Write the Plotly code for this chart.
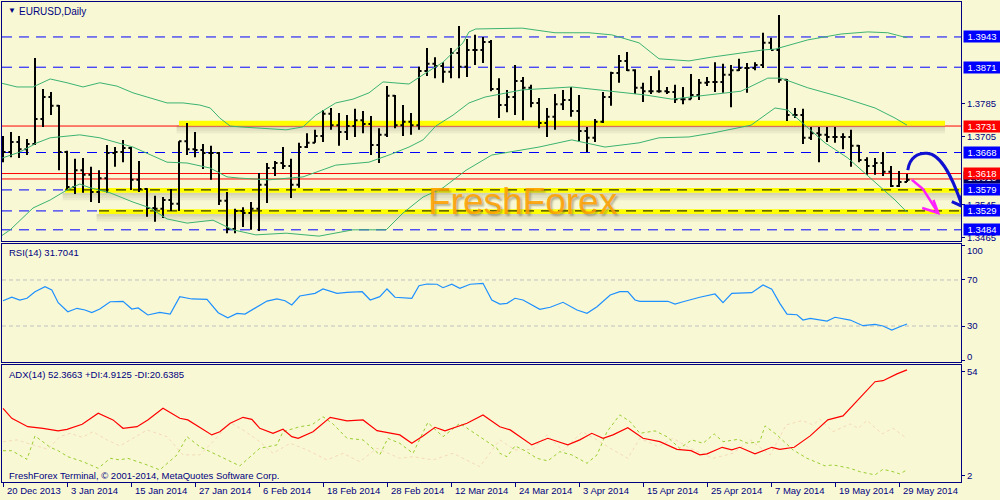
import plotly.graph_objects as go

# ---------------- data ----------------
bar_idx = list(range(114))
date_tick_idx = [0, 8, 16, 24, 32, 40, 48, 56, 64, 72, 80, 88, 96, 104, 112]
date_labels = ["20 Dec 2013", "3 Jan 2014", "15 Jan 2014", "27 Jan 2014", "6 Feb 2014",
               "18 Feb 2014", "28 Feb 2014", "12 Mar 2014", "24 Mar 2014", "3 Apr 2014",
               "15 Apr 2014", "25 Apr 2014", "7 May 2014", "19 May 2014", "29 May 2014"]

closes = [1.3669, 1.3693, 1.3676, 1.3688, 1.3748, 1.3800, 1.3779, 1.3669, 1.3586, 1.3626,
          1.3615, 1.3574, 1.3607, 1.3667, 1.3669, 1.3679, 1.3603, 1.3581, 1.3536, 1.3534,
          1.3555, 1.3546, 1.3695, 1.3676, 1.3674, 1.3667, 1.3667, 1.3553, 1.3486, 1.3529,
          1.3524, 1.3534, 1.3591, 1.3631, 1.3643, 1.3636, 1.3591, 1.3681, 1.3691, 1.3707,
          1.3760, 1.3733, 1.3717, 1.3731, 1.3745, 1.3736, 1.3686, 1.3710, 1.3803, 1.3733,
          1.3741, 1.3733, 1.3862, 1.3879, 1.3874, 1.3860, 1.3905, 1.3872, 1.3912, 1.3912,
          1.3931, 1.3819, 1.3781, 1.3800, 1.3838, 1.3822, 1.3786, 1.3738, 1.3753, 1.3783,
          1.3793, 1.3767, 1.3719, 1.3703, 1.3741, 1.3800, 1.3857, 1.3886, 1.3864, 1.3822,
          1.3814, 1.3814, 1.3814, 1.3812, 1.3795, 1.3795, 1.3805, 1.3834, 1.3836, 1.3836,
          1.3853, 1.3864, 1.3869, 1.3869, 1.3876, 1.3929, 1.3912, 1.3841, 1.3757, 1.3757,
          1.3703, 1.3714, 1.3710, 1.3705, 1.3705, 1.3705, 1.3684, 1.3650, 1.3636, 1.3643,
          1.3622, 1.3588, 1.3598, 1.3603]

opens = [1.3686, 1.3669, 1.3693, 1.3676, 1.3688, 1.3748, 1.3800, 1.3779, 1.3669, 1.3586,
         1.3626, 1.3615, 1.3574, 1.3607, 1.3667, 1.3669, 1.3679, 1.3603, 1.3581, 1.3536,
         1.3534, 1.3555, 1.3546, 1.3695, 1.3676, 1.3674, 1.3667, 1.3667, 1.3553, 1.3486,
         1.3529, 1.3524, 1.3534, 1.3591, 1.3631, 1.3643, 1.3636, 1.3591, 1.3681, 1.3691,
         1.3707, 1.3760, 1.3733, 1.3717, 1.3731, 1.3745, 1.3736, 1.3686, 1.3710, 1.3803,
         1.3733, 1.3741, 1.3733, 1.3862, 1.3879, 1.3874, 1.3860, 1.3905, 1.3872, 1.3912,
         1.3912, 1.3931, 1.3819, 1.3781, 1.3800, 1.3838, 1.3822, 1.3786, 1.3738, 1.3753,
         1.3783, 1.3793, 1.3767, 1.3719, 1.3703, 1.3741, 1.3800, 1.3857, 1.3886, 1.3864,
         1.3822, 1.3814, 1.3814, 1.3814, 1.3812, 1.3795, 1.3795, 1.3805, 1.3834, 1.3836,
         1.3836, 1.3853, 1.3864, 1.3869, 1.3869, 1.3876, 1.3929, 1.3912, 1.3841, 1.3757,
         1.3757, 1.3703, 1.3714, 1.3710, 1.3705, 1.3705, 1.3705, 1.3684, 1.3650, 1.3636,
         1.3643, 1.3622, 1.3588, 1.3598]

highs = [1.3707, 1.3717, 1.3707, 1.3700, 1.3893, 1.3819, 1.3812, 1.3781, 1.3672, 1.3653,
         1.3655, 1.3634, 1.3626, 1.3686, 1.3681, 1.3698, 1.3681, 1.3648, 1.3583, 1.3565,
         1.3562, 1.3581, 1.3695, 1.3738, 1.3717, 1.3688, 1.3684, 1.3669, 1.3574, 1.3534,
         1.3538, 1.3550, 1.3619, 1.3643, 1.3648, 1.3681, 1.3653, 1.3691, 1.3714, 1.3722,
         1.3769, 1.3774, 1.3762, 1.3757, 1.3772, 1.3767, 1.3755, 1.3726, 1.3826, 1.3805,
         1.3781, 1.3762, 1.3872, 1.3917, 1.3895, 1.3883, 1.3917, 1.3969, 1.3938, 1.3948,
         1.3943, 1.3936, 1.3845, 1.3817, 1.3876, 1.3848, 1.3829, 1.3798, 1.3774, 1.3807,
         1.3817, 1.3824, 1.3805, 1.3729, 1.3748, 1.3812, 1.3860, 1.3900, 1.3907, 1.3866,
         1.3834, 1.3850, 1.3864, 1.3824, 1.3829, 1.3824, 1.3855, 1.3843, 1.3848, 1.3883,
         1.3879, 1.3876, 1.3891, 1.3881, 1.3883, 1.3953, 1.3941, 1.3995, 1.3843, 1.3774,
         1.3772, 1.3729, 1.3729, 1.3729, 1.3729, 1.3714, 1.3722, 1.3686, 1.3657, 1.3655,
         1.3669, 1.3636, 1.3624, 1.3617]

lows = [1.3645, 1.3657, 1.3655, 1.3662, 1.3686, 1.3729, 1.3757, 1.3626, 1.3579, 1.3569,
        1.3572, 1.3550, 1.3548, 1.3572, 1.3634, 1.3645, 1.3579, 1.3574, 1.3515, 1.3503,
        1.3512, 1.3529, 1.3529, 1.3662, 1.3657, 1.3629, 1.3603, 1.3543, 1.3476, 1.3476,
        1.3491, 1.3484, 1.3481, 1.3548, 1.3612, 1.3629, 1.3560, 1.3584, 1.3679, 1.3691,
        1.3693, 1.3722, 1.3684, 1.3698, 1.3705, 1.3714, 1.3662, 1.3643, 1.3705, 1.3726,
        1.3707, 1.3710, 1.3722, 1.3850, 1.3845, 1.3834, 1.3845, 1.3845, 1.3848, 1.3876,
        1.3881, 1.3814, 1.3750, 1.3764, 1.3757, 1.3745, 1.3776, 1.3726, 1.3705, 1.3722,
        1.3769, 1.3753, 1.3695, 1.3669, 1.3693, 1.3738, 1.3779, 1.3834, 1.3862, 1.3807,
        1.3788, 1.3807, 1.3810, 1.3807, 1.3786, 1.3783, 1.3795, 1.3793, 1.3826, 1.3812,
        1.3810, 1.3776, 1.3862, 1.3810, 1.3864, 1.3869, 1.3912, 1.3834, 1.3743, 1.3750,
        1.3688, 1.3698, 1.3645, 1.3693, 1.3691, 1.3676, 1.3634, 1.3645, 1.3615, 1.3615,
        1.3612, 1.3586, 1.3586, 1.3598]

# Bollinger bands
bb_up_idx = [-0.4, 1.75, 3.75, 5.9, 8, 10, 12.1, 14.25, 16.25, 18.4, 20.5, 22.5, 24.6, 25.9, 27.1,
             28.4, 29.6, 35.4, 37.5, 39.1, 41.6, 43.75, 45.75, 47.5, 50.75, 52.5, 55, 57.5, 58.25,
             59.1, 64.9, 69, 73.25, 76.1, 79.5, 82, 85.75, 88.6, 92.25, 95, 96.5, 100.6, 104.75,
             108.1, 110.6, 112.25, 113]
bb_up_val = [1.3834, 1.3824, 1.3824, 1.3843, 1.3834, 1.3824, 1.3834, 1.3826, 1.3810, 1.3798,
             1.3786, 1.3786, 1.3781, 1.3774, 1.3750, 1.3731, 1.3729, 1.3722, 1.3729, 1.3757,
             1.3786, 1.3795, 1.3810, 1.3836, 1.3831, 1.3853, 1.3883, 1.3929, 1.3955, 1.3962,
             1.3964, 1.3953, 1.3953, 1.3948, 1.3929, 1.3891, 1.3886, 1.3895, 1.3905, 1.3912,
             1.3914, 1.3936, 1.3950, 1.3955, 1.3953, 1.3945, 1.3941]

bb_mid_idx = [-0.4, 2.1, 4.25, 5.9, 9.6, 12.1, 16.25, 18.4, 20.5, 23, 25.9, 28, 29.6, 33.25, 37.5,
              41.6, 45.75, 48.25, 50.75, 52.5, 54.1, 56.25, 58.25, 60.25, 64.9, 71.1, 73.6, 77.4,
              80.25, 83.6, 86.1, 88.6, 92.25, 95.6, 97.25, 100.6, 104.75, 109, 111.5, 113]
bb_mid_val = [1.3653, 1.3669, 1.3691, 1.3703, 1.3710, 1.3703, 1.3681, 1.3662, 1.3645, 1.3643,
              1.3631, 1.3610, 1.3607, 1.3603, 1.3610, 1.3638, 1.3645, 1.3662, 1.3681, 1.3698,
              1.3731, 1.3757, 1.3786, 1.3800, 1.3817, 1.3824, 1.3819, 1.3812, 1.3805, 1.3795,
              1.3800, 1.3805, 1.3814, 1.3845, 1.3845, 1.3822, 1.3800, 1.3774, 1.3750, 1.3733]

bb_low_idx = [-0.4, 0.9, 3.75, 5.9, 8, 9.6, 10.9, 13.4, 16.25, 18.4, 20.5, 23, 26.25, 28.75, 31.6,
              35.4, 39.5, 43.75, 47.9, 50, 52.5, 55, 57.9, 61.1, 67, 71.1, 75.25, 79.5, 82, 85.75,
              88.6, 93.5, 96.5, 98.1, 100.25, 102.75, 105.6, 109, 111.5, 113]
bb_low_val = [1.3467, 1.3484, 1.3536, 1.3555, 1.3579, 1.3593, 1.3584, 1.3572, 1.3550, 1.3536,
              1.3510, 1.3500, 1.3507, 1.3484, 1.3472, 1.3476, 1.3469, 1.3484, 1.3484, 1.3524,
              1.3562, 1.3584, 1.3626, 1.3662, 1.3681, 1.3698, 1.3681, 1.3691, 1.3703, 1.3705,
              1.3714, 1.3733, 1.3774, 1.3769, 1.3733, 1.3691, 1.3655, 1.3598, 1.3555, 1.3526]

# RSI(14)
rsi_idx = [0, 1.1, 2.1, 3, 4, 5.25, 6.1, 6.9, 8.1, 9.25, 10.25, 11.1, 12.1, 13.4, 15, 16.1, 16.9,
           18.1, 19.6, 20.9, 22.1, 23.6, 25.5, 26.9, 28.1, 29.25, 30.25, 31.5, 33, 34.25, 35.25,
           36.1, 37.1, 39, 40, 41.75, 43, 44.9, 45.9, 47.1, 48, 49, 51.1, 52, 53, 54.25, 55, 56.1,
           57.1, 58.4, 60, 61.1, 62.1, 63, 64, 65, 67.1, 68.4, 70, 71.75, 73, 74.25, 75.9, 77.1,
           78.1, 79, 79.6, 83.1, 84, 85, 87.1, 89, 90, 91.1, 93.6, 95, 96.1, 97.1, 98, 99.25, 100,
           100.9, 103, 104, 105.9, 107.5, 109, 110, 111.1, 112.1, 113]
rsi_val = [52.0, 55.0, 52.6, 54.1, 59.8, 64.2, 61.3, 50.3, 42.4, 45.4, 43.9, 41.6, 44.8, 51.1, 51.5,
           44.8, 45.7, 39.6, 41.9, 40.4, 55.5, 53.5, 53.2, 41.6, 37.2, 41.0, 40.4, 45.4, 51.7, 53.5,
           52.0, 48.3, 56.1, 58.4, 62.2, 58.4, 59.3, 59.8, 52.6, 55.5, 62.2, 55.0, 54.1, 65.0, 66.5,
           66.3, 63.3, 66.3, 62.8, 66.3, 67.1, 52.6, 49.1, 49.7, 54.1, 52.6, 44.5, 46.3, 50.6, 43.9,
           41.0, 46.8, 57.0, 59.8, 59.8, 52.6, 51.5, 51.5, 49.1, 51.1, 55.0, 57.8, 50.3, 58.4, 59.0,
           65.7, 61.9, 49.7, 40.4, 39.8, 35.2, 36.7, 34.3, 37.6, 35.2, 30.3, 31.5, 30.0, 26.5, 29.4,
           31.7]
rsi_levels = [30, 70]
rsi_ticks = [0, 30, 70, 100]

# ADX(14), +DI, -DI
adx_idx = [0, 1.1, 3.1, 5, 6.9, 8, 9.9, 11.9, 13.75, 15, 16.75, 18.1, 20, 22.1, 23.1, 24.4, 26.1,
           27.1, 28.4, 30, 31.1, 32.1, 33.75, 35, 36.1, 36.9, 38.75, 40.9, 43, 45, 46.75, 49.6, 51.1,
           52.5, 54, 55.25, 58, 60, 62.1, 63.4, 66.1, 68.1, 70.6, 72.1, 73.6, 75, 76.25, 78.1, 80,
           82.1, 84.25, 86, 87.1, 88, 89.9, 91.1, 92.1, 94, 96.1, 97.1, 98.9, 100.9, 103.1, 105,
           106.9, 109, 110, 111.75, 113]
adx_val = [35.7, 30.7, 26.5, 25.7, 24.4, 25.2, 27.7, 33.2, 29.9, 25.7, 26.5, 29.9, 35.7, 30.7, 29.9,
           26.5, 22.4, 24.0, 28.2, 31.2, 30.2, 25.7, 23.2, 25.2, 21.5, 20.7, 24.0, 31.2, 29.4, 29.9,
           24.5, 22.4, 18.2, 21.9, 26.2, 24.4, 28.2, 32.4, 26.5, 24.9, 17.4, 20.7, 17.4, 19.9, 23.2,
           20.7, 22.4, 26.0, 20.7, 19.0, 15.2, 14.5, 12.4, 12.9, 16.2, 14.9, 16.2, 12.9, 16.2, 15.2,
           16.2, 21.9, 29.9, 31.9, 40.2, 49.0, 49.5, 52.9, 54.9]
pdi_idx = [0, 1.1, 3, 4, 5.9, 6.9, 8.1, 10, 11.9, 13.4, 14.6, 15.6, 18, 19.6, 21.75, 23, 24.6,
           26.25, 28.75, 29.6, 32.1, 34.25, 35, 37.1, 38.6, 40, 41.25, 43, 45, 47.1, 48.1, 49.6,
           51.25, 53.1, 55, 57.1, 59.6, 61.75, 62.1, 63, 64, 65.25, 66.75, 68.1, 69.6, 71.1, 73,
           74.25, 75.5, 77.1, 78.4, 79.6, 81.5, 83, 84.6, 86.1, 87.5, 88.9, 90, 91.9, 93.1, 94.6,
           95.25, 96.75, 98.75, 100.5, 102.75, 103.75, 105.9, 107.1, 109, 110, 111.25, 112.1, 113]
pdi_val = [14.5, 14.5, 10.2, 21.9, 16.2, 14.5, 11.5, 9.0, 5.7, 10.7, 9.9, 10.7, 7.4, 4.9, 12.4, 21.5,
           16.5, 13.2, 8.2, 6.9, 15.7, 17.4, 24.0, 26.5, 27.4, 31.5, 27.9, 20.7, 19.9, 12.4, 20.7,
           18.2, 13.2, 28.6, 21.5, 28.2, 21.5, 15.7, 13.2, 11.5, 16.9, 14.5, 10.7, 9.4, 14.0, 12.4,
           8.2, 12.4, 24.0, 32.4, 29.0, 23.2, 24.4, 21.5, 15.7, 19.9, 18.2, 22.9, 19.0, 20.2, 18.2,
           19.0, 26.9, 22.4, 14.9, 10.7, 6.9, 7.4, 5.7, 4.0, 2.4, 5.2, 4.0, 2.9, 4.9]
mdi_idx = [0, 1.75, 3.75, 5.6, 7.1, 8.4, 9.9, 11.25, 13, 14.6, 16.25, 18, 20.5, 22.5, 24.6, 26.25,
           28.4, 30, 32.1, 33.75, 35.9, 38, 40.5, 42.5, 44.6, 46.75, 49.6, 51.25, 53.75, 56.25,
           59.6, 62.1, 64, 66.25, 68, 70, 72.4, 74.25, 76.25, 78.1, 79.6, 81.9, 83.75, 85.9, 88.75,
           91.25, 93.4, 95.9, 97.9, 99.9, 101.25, 102.1, 103.75, 105.9, 106.9, 108, 109.9, 111.25,
           113]
mdi_val = [19.0, 19.9, 17.4, 15.2, 21.5, 23.2, 21.2, 24.0, 19.9, 16.9, 20.7, 24.9, 21.5, 12.4, 12.4,
           19.0, 28.6, 24.9, 19.0, 13.2, 18.2, 14.9, 9.9, 13.2, 9.0, 15.7, 10.7, 11.5, 9.9, 13.2,
           6.5, 19.9, 14.9, 15.2, 22.4, 14.5, 24.0, 19.9, 14.9, 10.7, 20.7, 16.5, 20.7, 15.7, 10.7,
           13.2, 19.9, 12.4, 27.4, 29.6, 27.4, 30.2, 24.0, 27.9, 25.7, 29.6, 22.9, 25.7, 20.6]
adx_ticks = [2, 54]

# horizontal levels
blue_levels = [1.3943, 1.3871, 1.3668, 1.3579, 1.3529, 1.3484]
red_levels = [1.3731, 1.3618, 1.3605]
price_ticks = [1.3785, 1.3705, 1.3545, 1.3465]

# ---------------- style ----------------
BG = "#F8F8D5"
NAVY = "#000080"
BLUE = "#0000FF"
FONT = "Liberation Sans, Arial, sans-serif"
XR = [-0.125, 119.75]

fig = go.Figure()

fig.add_trace(go.Ohlc(x=bar_idx, open=opens, high=highs, low=lows, close=closes,
                      increasing=dict(line=dict(color="black", width=2)),
                      decreasing=dict(line=dict(color="black", width=2)),
                      tickwidth=0.32, xaxis="x", yaxis="y", showlegend=False,
                      hoverinfo="skip"))
for xs, ys in [(bb_up_idx, bb_up_val), (bb_mid_idx, bb_mid_val), (bb_low_idx, bb_low_val)]:
    fig.add_trace(go.Scatter(x=xs, y=ys, mode="lines", line=dict(color="#3CB371", width=1),
                             xaxis="x", yaxis="y", showlegend=False, hoverinfo="skip"))

fig.add_trace(go.Scatter(x=rsi_idx, y=rsi_val, mode="lines", line=dict(color="#1E90FF", width=1.2),
                         xaxis="x2", yaxis="y2", showlegend=False, hoverinfo="skip"))

fig.add_trace(go.Scatter(x=mdi_idx, y=mdi_val, mode="lines",
                         line=dict(color="#F5D9B8", width=1, dash="3px,3px"),
                         xaxis="x3", yaxis="y3", showlegend=False, hoverinfo="skip"))
fig.add_trace(go.Scatter(x=pdi_idx, y=pdi_val, mode="lines",
                         line=dict(color="#9ACD32", width=1, dash="3px,3px"),
                         xaxis="x3", yaxis="y3", showlegend=False, hoverinfo="skip"))
fig.add_trace(go.Scatter(x=adx_idx, y=adx_val, mode="lines", line=dict(color="#FF0000", width=1.2),
                         xaxis="x3", yaxis="y3", showlegend=False, hoverinfo="skip"))

shapes = []
# yellow highlight stripes with soft shadow (start idx, end idx, centre price)
stripes = [(22.0, 117.75, 1.37375), (7.75, XR[1], 1.3578), (12.0, XR[1], 1.35272)]
for x0, x1, yc in stripes:
    for k, op in [(1, 0.22), (2, 0.14), (3, 0.08)]:
        shapes.append(dict(type="rect", xref="x", yref="y", x0=x0 - 0.3, x1=x1,
                           y0=yc - 0.00055 - k * 0.0006, y1=yc - 0.00055 - (k - 1) * 0.0006,
                           fillcolor="rgba(90,90,70,%.2f)" % op, line=dict(width=0), layer="below"))
    shapes.append(dict(type="rect", xref="x", yref="y", x0=x0, x1=x1,
                       y0=yc - 0.00058, y1=yc + 0.00058, fillcolor="#FFFF00",
                       line=dict(width=0), layer="below"))
for lv in blue_levels:
    shapes.append(dict(type="line", xref="x domain", yref="y", x0=0, x1=1, y0=lv, y1=lv,
                       line=dict(color=BLUE, width=1, dash="10px,7px"), layer="below"))
for (x0, x1, yc), lv in zip(stripes[1:], [1.3579, 1.3529]):
    shapes.append(dict(type="line", xref="x", yref="y", x0=x0, x1=x1, y0=lv, y1=lv,
                       line=dict(color="black", width=1, dash="10px,7px"), layer="below"))
for lv in red_levels:
    shapes.append(dict(type="line", xref="x domain", yref="y", x0=0, x1=1, y0=lv, y1=lv,
                       line=dict(color="#FF0000", width=1), layer="below"))
for lv in rsi_levels:
    shapes.append(dict(type="line", xref="x2 domain", yref="y2", x0=0, x1=1, y0=lv, y1=lv,
                       line=dict(color="#C0C0C0", width=1, dash="4px,3px"), layer="below"))
# hand-drawn arrows
shapes.append(dict(type="path", xref="x", yref="y",
                   path="M 113.1,1.3626 C 113.3,1.3657 114.4,1.3667 115.5,1.3666 "
                        "C 117.4,1.3664 118.8,1.3602 119.9,1.3540",
                   line=dict(color="#1010D0", width=3)))
shapes.append(dict(type="path", xref="x", yref="y",
                   path="M 118.6,1.3551 L 119.9,1.3540 L 119.8,1.3566",
                   line=dict(color="#1010D0", width=3)))
shapes.append(dict(type="path", xref="x", yref="y",
                   path="M 113.6,1.3603 L 115.0,1.3581 L 116.9,1.3524",
                   line=dict(color="#FF20FF", width=2.5)))
shapes.append(dict(type="path", xref="x", yref="y",
                   path="M 114.9,1.3536 L 116.9,1.3524 L 116.3,1.3555",
                   line=dict(color="#FF20FF", width=2.5)))

axis_common = dict(showline=True, mirror=True, linecolor=NAVY, linewidth=1, showgrid=False,
                   zeroline=False, fixedrange=True)

ann = []
def box(price, text, color):
    ann.append(dict(xref="paper", yref="y", x=0.9625, y=price, xanchor="left", yanchor="middle",
                    text=text, showarrow=False, bgcolor=color, borderpad=0, width=36, height=11,
                    font=dict(family=FONT, size=9.5, color="white")))

box(1.3943, "1.3943", BLUE)
box(1.3871, "1.3871", BLUE)
box(1.3731, "1.3731", "#FF0000")
box(1.3668, "1.3668", BLUE)
box(1.3609, "1.3610", "#000060")
box(1.3618, "1.3618", "#FF0000")
box(1.3579, "1.3579", BLUE)
box(1.3529, "1.3529", BLUE)
box(1.3484, "1.3484", BLUE)

def label(xp, yp, text, size=9.5, color=NAVY):
    ann.append(dict(xref="paper", yref="paper", x=xp / 1000, y=1 - yp / 500, xanchor="left",
                    yanchor="middle", text=text, showarrow=False,
                    font=dict(family=FONT, size=size, color=color)))

label(6, 10.5, "▼", size=8)
label(17, 11, "EURUSD,Daily", size=10)
label(7, 252.5, "RSI(14) 31.7041")
label(7, 374, "ADX(14) 52.3663 +DI:4.9125 -DI:20.6385")
label(7, 475, "FreshForex Terminal, © 2001-2014, MetaQuotes Software Corp.")

# RSI end labels sit inside the pane, as in the terminal
for v, yp in [(100, 250), (0, 356)]:
    ann.append(dict(xref="paper", yref="paper", x=0.9645, y=1 - yp / 500, xanchor="left",
                    yanchor="middle", text=str(v), showarrow=False,
                    font=dict(family=FONT, size=9.5, color=NAVY)))

ann.append(dict(xref="paper", yref="paper", x=523 / 1000, y=1 - 201 / 500, xanchor="center",
                yanchor="middle", text="FreshForex", showarrow=False,
                font=dict(family=FONT, size=37, color="rgba(255,160,0,0.88)",
                          shadow="2px 2px 2px rgba(90,90,60,0.45)")))

fig.update_layout(
    width=1000, height=500, margin=dict(l=0, r=0, t=0, b=0),
    paper_bgcolor=BG, plot_bgcolor=BG, showlegend=False, hovermode=False,
    font=dict(family=FONT, size=9.5, color=NAVY),
    xaxis=dict(domain=[0.002, 0.961], range=XR, showticklabels=False, ticks="",
               rangeslider=dict(visible=False), anchor="y", **axis_common),
    xaxis2=dict(domain=[0.002, 0.961], range=XR, showticklabels=False, ticks="",
                matches="x", anchor="y2", **axis_common),
    xaxis3=dict(domain=[0.002, 0.961], range=XR, matches="x", anchor="y3",
                tickvals=date_tick_idx, ticktext=date_labels, ticks="outside", ticklen=4,
                tickcolor=NAVY, ticklabelposition="outside right", ticklabelshift=3,
                tickfont=dict(family=FONT, size=9.5, color=NAVY), **axis_common),
    yaxis=dict(domain=[0.518, 0.996], range=[1.34574, 1.40262], side="right", anchor="x",
               tickvals=price_ticks, ticktext=["%.4f" % v for v in price_ticks],
               ticks="outside", ticklen=3, tickcolor=NAVY, automargin=False,
               tickfont=dict(family=FONT, size=9.5, color=NAVY), **axis_common),
    yaxis2=dict(domain=[0.2766, 0.513], range=[-1, 101.7], side="right", anchor="x2",
                tickvals=rsi_ticks, ticktext=["", "30", "70", ""], ticks="outside", ticklen=3,
                tickcolor=NAVY, automargin=False,
                tickfont=dict(family=FONT, size=9.5, color=NAVY), **axis_common),
    yaxis3=dict(domain=[0.0366, 0.27], range=[-1, 57.35], side="right", anchor="x3",
                tickvals=adx_ticks, ticks="outside", ticklen=3, tickcolor=NAVY,
                automargin=False, tickfont=dict(family=FONT, size=9.5, color=NAVY), **axis_common),
    shapes=shapes, annotations=ann,
)

fig.write_html("out.html", config={"displayModeBar": False},
               post_script="document.body.style.margin='0px';document.body.style.background='%s';" % BG)
